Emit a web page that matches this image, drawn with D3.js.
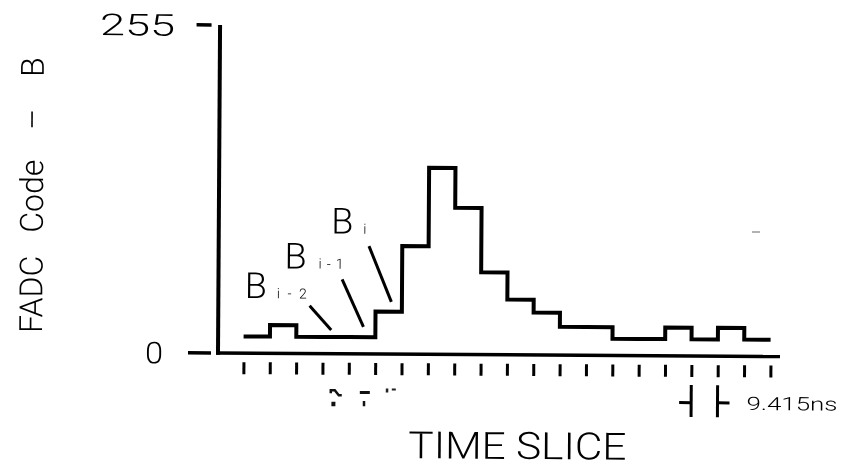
<!DOCTYPE html>
<html><head><meta charset="utf-8">
<script src="https://cdn.jsdelivr.net/npm/d3@7"></script>
<style>
html,body{margin:0;padding:0;background:#fff;}
svg{display:block;filter:grayscale(1);}
text{font-family:Roboto,"DejaVu Sans",sans-serif;font-weight:300;fill:#000;}
</style></head><body>
<svg id="chart" width="844" height="471"></svg>
<script>
// ---- data ----
const slices = [0,1,2,3,4,5,6,7,8,9,10,11,12,13,14,15,16,17,18,19];
const fadcValues = [13,22,13,13,13,33,84,145,114,64,43,33,22,22,13,13,22,13,22,13];
const xTickSlices = [0,1,2,3,4,5,6,7,8,9,10,11,12,13,14,15,16,17,18,19,20];
const yTickValues = [0, 255];
const yTickLabels = ["0", "255"];
const annotationSlices = [3, 4, 5];
const annotationSubscripts = ["i-2", "i-1", "i"];
const xAxisTitle = "TIME SLICE";
const yAxisTitleParts = ["FADC", "Code", "\u2013", "B"];
const sliceWidthLabel = "9.415ns";
const markerSlices = [17, 18];

// ---- layout ----
const svg = d3.select("#chart");
const g = svg.append("g").attr("transform", "translate(218,353) rotate(0.36)");
const x = d3.scaleLinear().domain([0, 20]).range([25.5, 552.5]);
const y = d3.scaleLinear().domain([0, 255]).range([0, -328]);

// axes lines
g.append("line").attr("x1", 0).attr("x2", 0).attr("y1", y(0) + 1.75).attr("y2", y(255))
  .attr("stroke", "#000").attr("stroke-width", 4);
g.append("line").attr("x1", -2).attr("x2", 562).attr("y1", y(0)).attr("y2", y(0))
  .attr("stroke", "#000").attr("stroke-width", 3.5);

// y ticks + labels
const yTickStart = [-30, -23.5], yTickEnd = [-7, -8.5], yLabelRight = [-55, -45], yLabelLen = [18, 75];
yTickValues.forEach((v, i) => {
  g.append("line").attr("x1", yTickStart[i]).attr("x2", yTickEnd[i])
    .attr("y1", y(v)).attr("y2", y(v)).attr("stroke", "#000").attr("stroke-width", 3.5);
  g.append("text").attr("x", yLabelRight[i] - yLabelLen[i]).attr("y", y(v)).attr("dy", "0.36em")
    .attr("font-size", 30).attr("textLength", yLabelLen[i]).attr("lengthAdjust", "spacingAndGlyphs")
    .text(yTickLabels[i]);
});

// x ticks (offset below the axis)
const xAxis = d3.axisBottom(x).tickValues(xTickSlices).tickSize(12).tickFormat("");
const xg = g.append("g").attr("transform", "translate(0,9)").call(xAxis);
xg.select(".domain").remove();
xg.selectAll(".tick line").attr("stroke", "#000").attr("stroke-width", 3);

// step histogram
const pts = slices.map((s, i) => [s, fadcValues[i]]);
pts.push([20, fadcValues[fadcValues.length - 1]]);
const line = d3.line().x(d => x(d[0])).y(d => y(d[1])).curve(d3.curveStepAfter);
g.append("path").attr("d", line(pts)).attr("fill", "none").attr("stroke", "#000")
  .attr("stroke-width", 4).attr("stroke-linejoin", "miter").attr("stroke-linecap", "butt");

// annotations B_{i-2}, B_{i-1}, B_i
const annEnd = [[-4.7, -7], [1.2, -10.4], [2.6, -9.8]];      // from (bin centre, bin level)
const annStart = [[-21.7, -24], [-21.6, -47.3], [-22.7, -55.6]]; // from end point
const annB = [[-64.8, -7.4], [-57.7, -10.6], [-37.8, -12.4]];  // from start point
const annSub = [32, 34, 32];
const annSubLen = [30, 25, 3];
annotationSlices.forEach((s, i) => {
  const v = fadcValues[s];
  const ex = x(s + 0.5) + annEnd[i][0], ey = y(v) + annEnd[i][1];
  const sx = ex + annStart[i][0], sy = ey + annStart[i][1];
  g.append("line").attr("x1", sx).attr("y1", sy).attr("x2", ex).attr("y2", ey)
    .attr("stroke", "#000").attr("stroke-width", 3);
  const bx = sx + annB[i][0], by = sy + annB[i][1];
  g.append("text").attr("x", bx).attr("y", by).attr("font-size", 36).text("B");
  g.append("text").attr("x", bx + annSub[i]).attr("y", by).attr("font-size", 14)
    .attr("font-weight", 700).style("fill", "#000")
    .attr("textLength", annSubLen[i]).attr("lengthAdjust", "spacing").text(annotationSubscripts[i]);
});

// faint fragments under the annotated slices
const fragTop = [[-4.7, 35.5, 12, 7], [-2, 37, 10, 3], [-2.4, 34.5, 10, 4]];
const fragDot = [[-4, 48, 4, 4.5], [1, 47, 2.5, 5.4], null];
annotationSlices.forEach((s, i) => {
  const cx = x(s + 0.5);
  const t = fragTop[i];
  if (i === 2) {
    g.append("rect").attr("x", cx + t[0]).attr("y", t[1]).attr("width", 2.5).attr("height", t[3]).attr("fill", "#222");
    g.append("rect").attr("x", cx + t[0] + 6).attr("y", t[1]).attr("width", 4).attr("height", 2).attr("fill", "#222");
  } else if (i === 0) {
    g.append("path").attr("d", `M${cx + t[0]},${t[1] + 4}v-3h4l4,5h3`).attr("fill", "none")
      .attr("stroke", "#111").attr("stroke-width", 2.5);
  } else {
    g.append("rect").attr("x", cx + t[0]).attr("y", t[1]).attr("width", t[2]).attr("height", t[3]).attr("fill", "#111");
  }
  const d = fragDot[i];
  if (d) g.append("rect").attr("x", cx + d[0]).attr("y", d[1]).attr("width", d[2]).attr("height", d[3]).attr("fill", "#111");
});

// slice width marker
const mL = x(markerSlices[0]), mR = x(markerSlices[1]);
g.append("line").attr("x1", mL).attr("x2", mL).attr("y1", 29).attr("y2", 61).attr("stroke", "#000").attr("stroke-width", 3);
g.append("line").attr("x1", mR).attr("x2", mR).attr("y1", 29).attr("y2", 61).attr("stroke", "#000").attr("stroke-width", 3);
g.append("line").attr("x1", mL - 12).attr("x2", mL).attr("y1", 46.7).attr("y2", 46.7).attr("stroke", "#000").attr("stroke-width", 3);
g.append("line").attr("x1", mR).attr("x2", mR + 12).attr("y1", 46.7).attr("y2", 46.7).attr("stroke", "#000").attr("stroke-width", 3);
g.append("text").attr("x", mR + 29).attr("y", 53.7).attr("font-size", 18.5).attr("font-weight", 400)
  .attr("textLength", 91).attr("lengthAdjust", "spacingAndGlyphs").text(sliceWidthLabel);

// x axis title
g.append("text").attr("x", (x(0) + x(20)) / 2 + 11).attr("y", 104).attr("font-size", 37.5)
  .attr("text-anchor", "middle").attr("textLength", 218).attr("lengthAdjust", "spacingAndGlyphs")
  .text(xAxisTitle);

// y axis title (rotated)
const yt = g.append("text").attr("transform", "translate(-176,-19) rotate(-90)").attr("font-size", 32);
const yGaps = [0, 23, 30, 32];
yAxisTitleParts.forEach((p, i) => { yt.append("tspan").attr("dx", yGaps[i]).text(p); });

// scan speck
svg.append("line").attr("x1", 752).attr("x2", 760).attr("y1", 232).attr("y2", 232)
  .attr("stroke", "#999").attr("stroke-width", 1.5);
</script>
</body></html>
